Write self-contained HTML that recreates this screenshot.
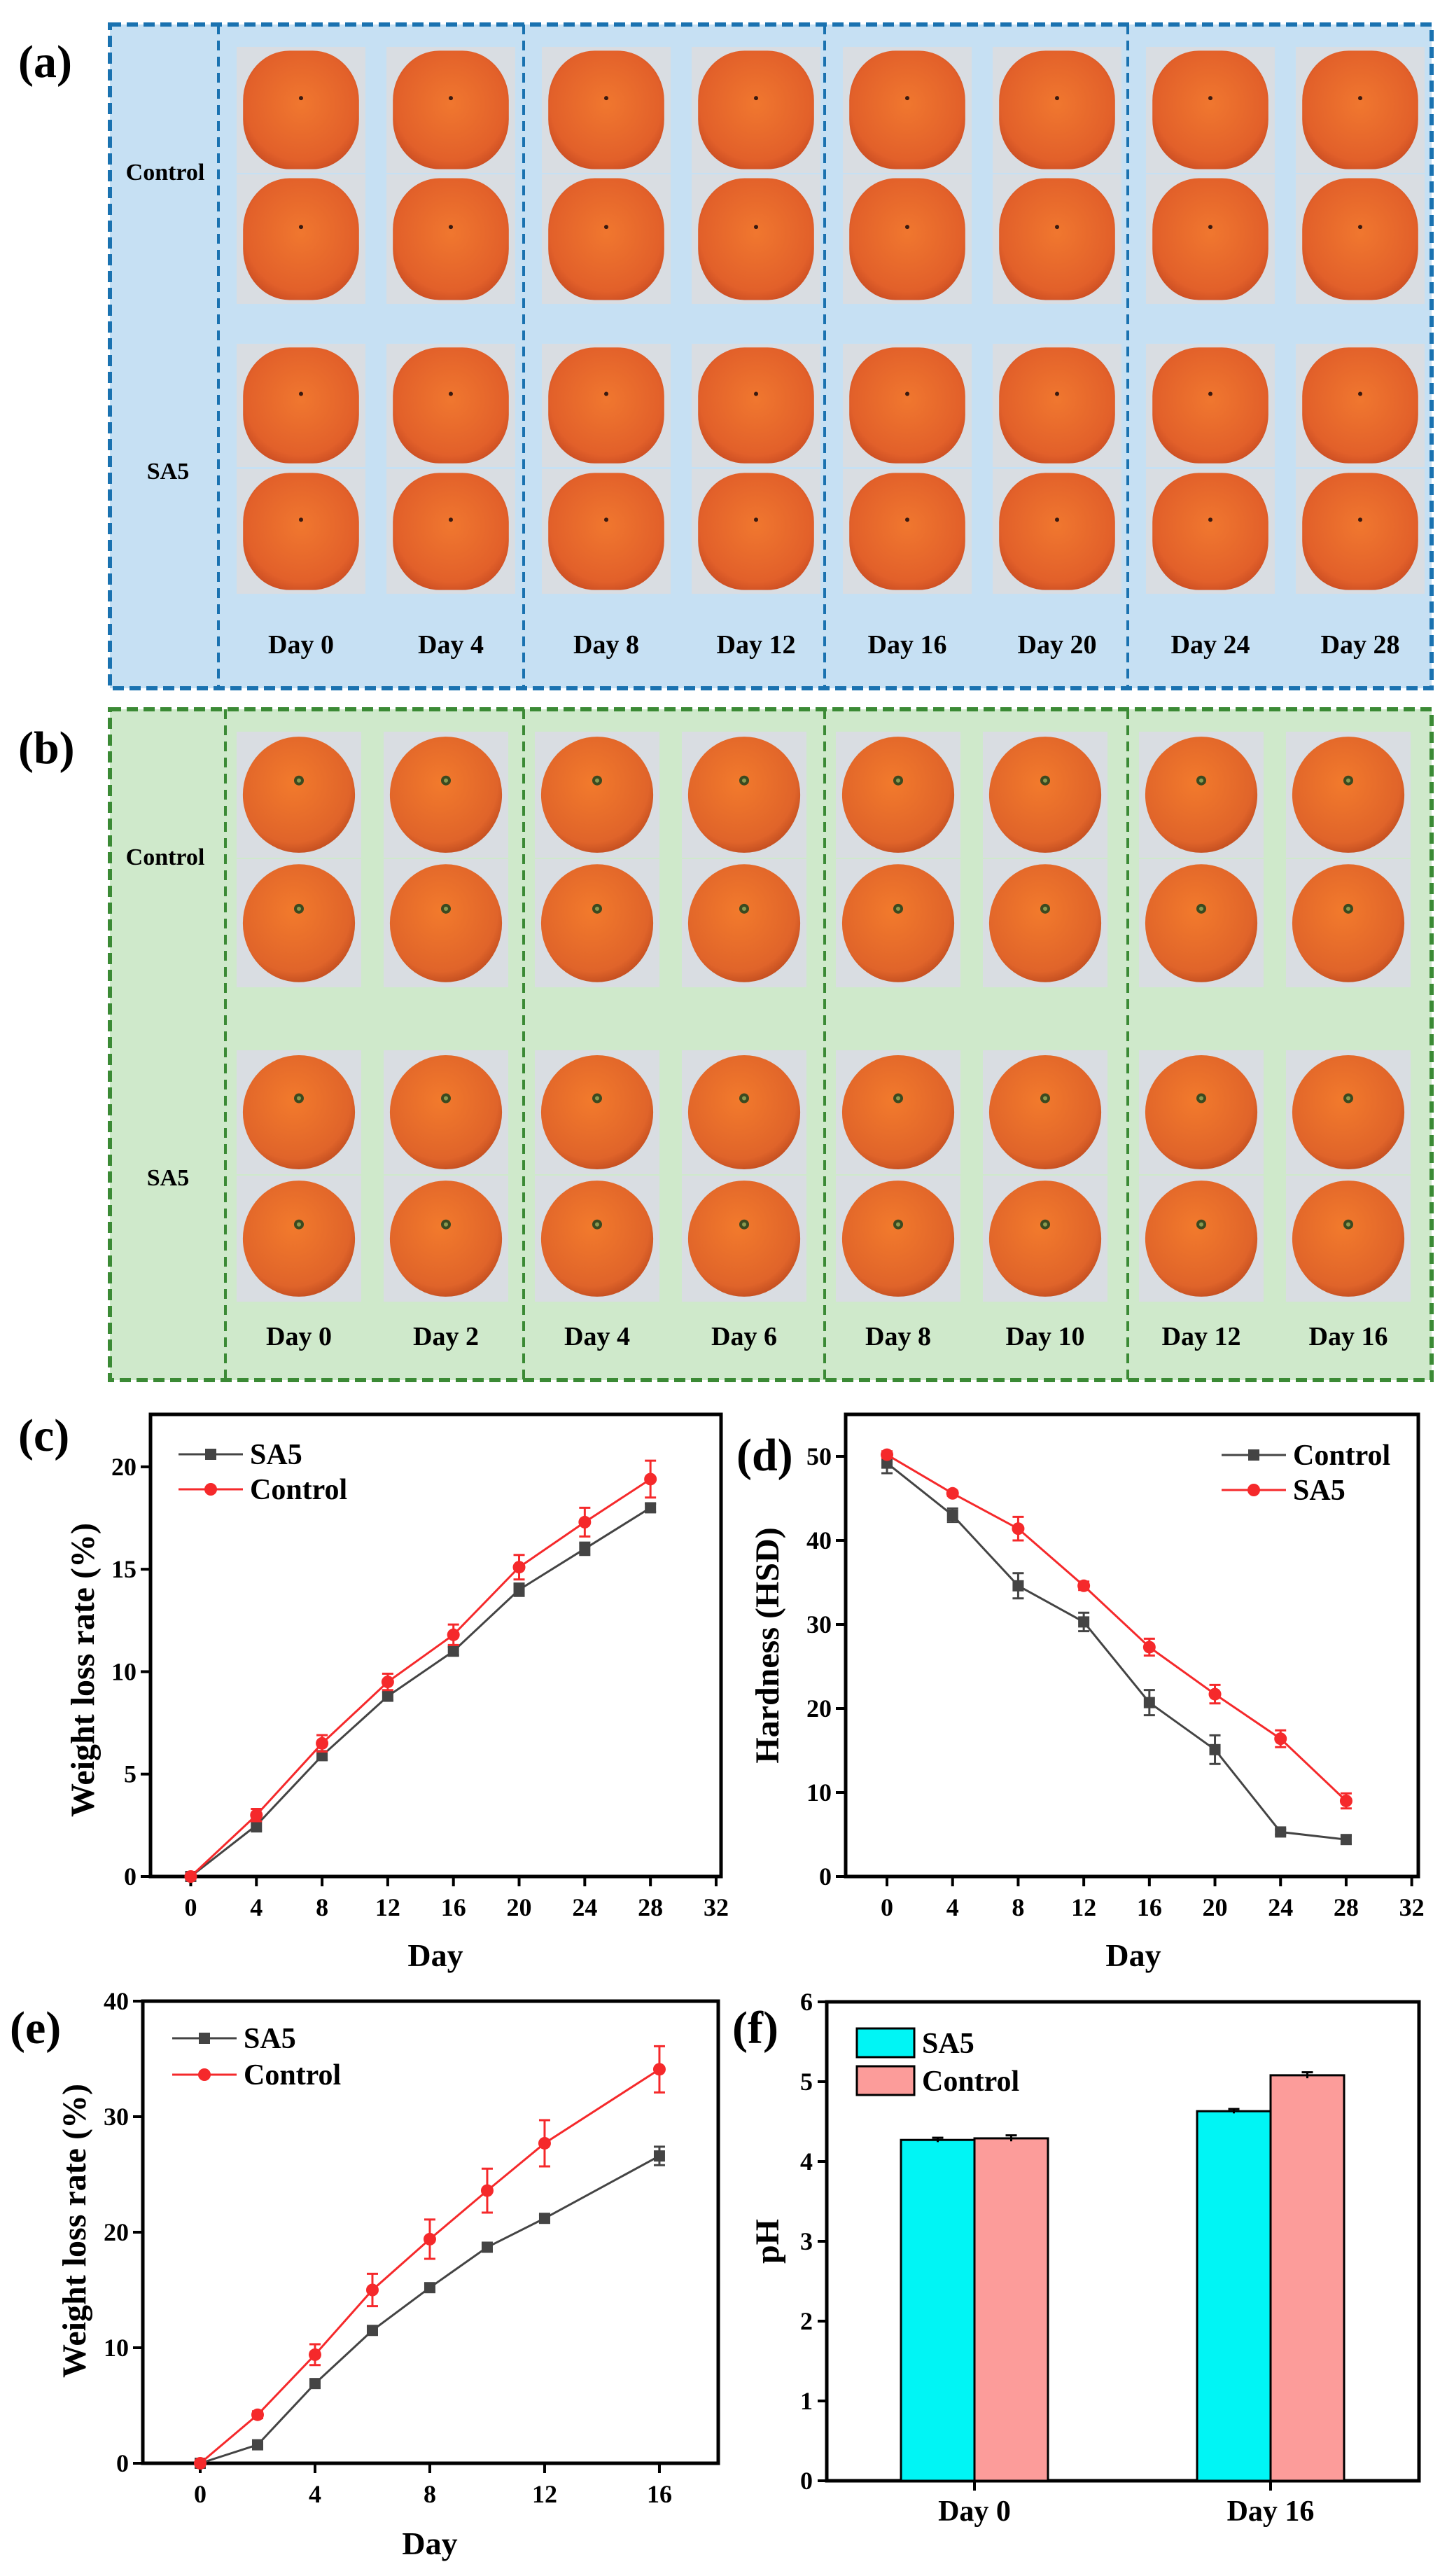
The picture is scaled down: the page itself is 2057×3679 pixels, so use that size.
<!DOCTYPE html>
<html><head><meta charset="utf-8">
<style>
html,body{margin:0;padding:0;background:#fff;}
svg{display:block;}
svg text{font-family:"Liberation Serif","Times New Roman",serif;font-weight:bold;}
</style></head>
<body>
<svg id="fig" xmlns="http://www.w3.org/2000/svg" width="2057" height="3679" viewBox="0 0 2057 3679">
<defs>
<radialGradient id="persG" cx="50%" cy="45%" r="60%"><stop offset="0" stop-color="#f0772f"/><stop offset="0.8" stop-color="#e2602a"/><stop offset="1" stop-color="#c94c22"/></radialGradient>
<radialGradient id="mandG" cx="45%" cy="40%" r="60%"><stop offset="0" stop-color="#f27a2c"/><stop offset="0.85" stop-color="#e0642a"/><stop offset="1" stop-color="#c85222"/></radialGradient>
</defs>
<g id="panelA"></g>
<g id="panelB"></g>
<g id="chartC"></g>
<g id="chartD"></g>
<g id="chartE"></g>
<g id="chartF"></g>
</svg>
<script>
// ---------- chart data ----------
const daysC = [0,4,8,12,16,20,24,28];
const cSA5 = [0,2.5,5.9,8.8,11.0,14.0,16.0,18.0];
const cSA5Err = [0.1,0.3,0.2,0.2,0.2,0.3,0.3,0.2];
const cControl = [0,3.0,6.5,9.5,11.8,15.1,17.3,19.4];
const cControlErr = [0.1,0.3,0.4,0.4,0.5,0.6,0.7,0.9];
const cXTicks = [0,4,8,12,16,20,24,28,32];
const cYTicks = [0,5,10,15,20];

const daysD = [0,4,8,12,16,20,24,28];
const dControl = [49.2,43.0,34.6,30.3,20.7,15.1,5.3,4.4];
const dControlErr = [1.2,0.8,1.5,1.1,1.5,1.7,0.3,0.5];
const dSA5 = [50.2,45.6,41.4,34.6,27.3,21.7,16.4,9.0];
const dSA5Err = [0.4,0.3,1.4,0.5,1.0,1.1,1.0,0.9];
const dXTicks = [0,4,8,12,16,20,24,28,32];
const dYTicks = [0,10,20,30,40,50];

const daysE = [0,2,4,6,8,10,12,16];
const eSA5 = [0,1.6,6.9,11.5,15.2,18.7,21.2,26.6];
const eSA5Err = [0.1,0.3,0.3,0.3,0.3,0.3,0.3,0.8];
const eControl = [0,4.2,9.4,15.0,19.4,23.6,27.7,34.1];
const eControlErr = [0.1,0.3,0.9,1.4,1.7,1.9,2.0,2.0];
const eXTicks = [0,4,8,12,16];
const eYTicks = [0,10,20,30,40];

const fCategories = ["Day 0","Day 16"];
const fSA5 = [4.27,4.63];
const fSA5Err = [0.01,0.01];
const fControl = [4.29,5.08];
const fControlErr = [0.02,0.02];
const fYTicks = [0,1,2,3,4,5,6];

const daysA = ["Day 0","Day 4","Day 8","Day 12","Day 16","Day 20","Day 24","Day 28"];
const daysB = ["Day 0","Day 2","Day 4","Day 6","Day 8","Day 10","Day 12","Day 16"];

const NS="http://www.w3.org/2000/svg";
function mk(parent,tag,attrs,text){const e=document.createElementNS(NS,tag);for(const k in attrs)e.setAttribute(k,attrs[k]);if(text!==undefined)e.textContent=text;parent.appendChild(e);return e;}

// ---------- photo panels ----------
function photoPanel(gid,top,bottom,bg,bd,labels,kind,rows,sepFirst,colOff,photoW){
  const g=document.getElementById(gid);
  const L=157,R=2045;
  const bgRect=mk(g,'rect',{x:L,y:top,width:R-L,height:bottom-top,fill:bg,stroke:bd,'stroke-width':6,'stroke-dasharray':'16 8'});
  
  
  const seps=[sepFirst,748,1178,1611];
  seps.forEach(x=>{const s=mk(g,'line',{x1:x,y1:top,x2:x,y2:bottom,stroke:bd,'stroke-width':4,'stroke-dasharray':'14 9'});
    
    });
  for(let gi=0;gi<4;gi++){
    for(let c=0;c<2;c++){
      const x=seps[gi]+colOff[c];
      rows.forEach(([y0,y1])=>{
        const ph=mk(g,'g',{});
        
        
        mk(ph,'rect',{x:x,y:y0,width:photoW,height:y1-y0,fill:'#d9dde2'});
        const cx=x+photoW/2, cy=(y0+y1)/2, w=photoW*0.9, h=(y1-y0)*0.94;
        if(kind==='p'){
          mk(ph,'rect',{x:cx-w/2,y:cy-h/2,width:w,height:h,rx:w*0.4,ry:h*0.42,fill:'url(#persG)'});
          mk(ph,'circle',{cx:cx,cy:cy-h*0.1,r:3,fill:'#3a1a10'});
        }else{
          mk(ph,'ellipse',{cx:cx,cy:cy,rx:w*0.5,ry:h*0.49,fill:'url(#mandG)'});
          mk(ph,'circle',{cx:cx,cy:cy-h*0.12,r:7,fill:'#3b4a20'});
          mk(ph,'circle',{cx:cx,cy:cy-h*0.12,r:3,fill:'#8a9a50'});
        }
      });
      const t=mk(g,'text',{x:x+photoW/2,y:bottom-50,'font-size':38,'text-anchor':'middle'},labels[gi*2+c]);
      
      
    }
  }
  const cl=mk(g,'text',{x:236,y:rows[1][0]+8,'font-size':34,'text-anchor':'middle'},'Control');
  
  
  const sl=mk(g,'text',{x:240,y:rows[3][0]+14,'font-size':34,'text-anchor':'middle'},'SA5');
  
  
}
photoPanel('panelA',35,983,'#c6e0f3','#1a72b0',daysA,'p',[[67,247],[249,434],[491,667],[670,848]],312,[26,240],184);
photoPanel('panelB',1013,1971,'#cfe9cb','#3b8a35',daysB,'m',[[1045,1225],[1227,1410],[1500,1677],[1679,1859]],322,[16,226],178);
[['(a)',26,110,'panel-label-a'],['(b)',26,1090,'panel-label-b'],['(c)',26,2072,'panel-label-c'],['(d)',1052,2100,'panel-label-d'],['(e)',14,2918,'panel-label-e'],['(f)',1046,2918,'panel-label-f']].forEach(([s,x,y,n])=>{
  const t=mk(document.getElementById('fig'),'text',{x:x,y:y,'font-size':66},s);
  
  
});

// ---------- line charts ----------
function lineChart(gid,box,xd,yd,xTicks,yTicks,series,legend,xTitlePos,yTitle,yTitlePos){
  const g=document.getElementById(gid);
  const sx=v=>box.l+(v-xd[0])/(xd[1]-xd[0])*(box.r-box.l);
  const sy=v=>box.b-(v-yd[0])/(yd[1]-yd[0])*(box.b-box.t);
  const fr=mk(g,'rect',{x:box.l,y:box.t,width:box.r-box.l,height:box.b-box.t,fill:'none',stroke:'#000','stroke-width':5});
  
  
  xTicks.forEach(v=>{const x=sx(v);mk(g,'line',{x1:x,y1:box.b,x2:x,y2:box.b+14,stroke:'#000','stroke-width':4});
    const t=mk(g,'text',{x:x,y:box.b+56,'font-size':36,'text-anchor':'middle'},String(v));
    
    });
  yTicks.forEach(v=>{const y=sy(v);mk(g,'line',{x1:box.l-14,y1:y,x2:box.l,y2:y,stroke:'#000','stroke-width':4});
    const t=mk(g,'text',{x:box.l-20,y:y+12,'font-size':36,'text-anchor':'end'},String(v));
    
    });
  series.forEach(s=>{
    const sg=mk(g,'g',{});
    
    
    mk(sg,'polyline',{points:s.x.map((d,i)=>sx(d)+','+sy(s.y[i])).join(' '),fill:'none',stroke:s.color,'stroke-width':3});
    s.x.forEach((d,i)=>{
      const x=sx(d),y=sy(s.y[i]),e=s.err[i];
      const y1=sy(s.y[i]+e),y2=sy(s.y[i]-e);
      mk(sg,'line',{x1:x,y1:y1,x2:x,y2:y2,stroke:s.color,'stroke-width':3});
      mk(sg,'line',{x1:x-8,y1:y1,x2:x+8,y2:y1,stroke:s.color,'stroke-width':3});
      mk(sg,'line',{x1:x-8,y1:y2,x2:x+8,y2:y2,stroke:s.color,'stroke-width':3});
      if(s.marker==='sq') mk(sg,'rect',{x:x-8,y:y-8,width:16,height:16,fill:s.color});
      else mk(sg,'circle',{cx:x,cy:y,r:9,fill:s.color});
    });
  });
  legend.forEach(l=>{
    const lg=mk(g,'g',{});
    
    
    mk(lg,'line',{x1:l.x,y1:l.y,x2:l.x+92,y2:l.y,stroke:l.color,'stroke-width':3});
    if(l.marker==='sq') mk(lg,'rect',{x:l.x+38,y:l.y-8,width:16,height:16,fill:l.color});
    else mk(lg,'circle',{cx:l.x+46,cy:l.y,r:9,fill:l.color});
    mk(lg,'text',{x:l.x+102,y:l.y+14,'font-size':42},l.label);
  });
  const xt=mk(g,'text',{x:xTitlePos[0],y:xTitlePos[1],'font-size':46,'text-anchor':'middle'},'Day');
  
  
  const yt=mk(g,'text',{x:0,y:0,'font-size':48,'text-anchor':'middle',transform:`translate(${yTitlePos[0]},${yTitlePos[1]}) rotate(-90)`},yTitle);
  
  
}
const GRAY='#444444', RED='#f5292b';
lineChart('chartC',{l:215,r:1030,t:2020,b:2680},[-2.45,32.3],[0,22.56],cXTicks,cYTicks,
  [{name:'series-sa5',x:daysC,y:cSA5,err:cSA5Err,color:GRAY,marker:'sq'},
   {name:'series-control',x:daysC,y:cControl,err:cControlErr,color:RED,marker:'ci'}],
  [{x:255,y:2077,color:GRAY,marker:'sq',label:'SA5'},{x:255,y:2127,color:RED,marker:'ci',label:'Control'}],
  [622,2808],'Weight loss rate (%)',[134,2385]);
lineChart('chartD',{l:1208,r:2026,t:2020,b:2680},[-2.52,32.4],[0,55],dXTicks,dYTicks,
  [{name:'series-control',x:daysD,y:dControl,err:dControlErr,color:GRAY,marker:'sq'},
   {name:'series-sa5',x:daysD,y:dSA5,err:dSA5Err,color:RED,marker:'ci'}],
  [{x:1745,y:2078,color:GRAY,marker:'sq',label:'Control'},{x:1745,y:2128,color:RED,marker:'ci',label:'SA5'}],
  [1619,2808],'Hardness (HSD)',[1112,2350]);
lineChart('chartE',{l:204,r:1026,t:2858,b:3518},[-2,18.05],[0,40],eXTicks,eYTicks,
  [{name:'series-sa5',x:daysE,y:eSA5,err:eSA5Err,color:GRAY,marker:'sq'},
   {name:'series-control',x:daysE,y:eControl,err:eControlErr,color:RED,marker:'ci'}],
  [{x:246,y:2911,color:GRAY,marker:'sq',label:'SA5'},{x:246,y:2963,color:RED,marker:'ci',label:'Control'}],
  [614,3648],'Weight loss rate (%)',[122,3186]);

// ---------- bar chart ----------
(function(){
  const g=document.getElementById('chartF');
  const box={l:1181,r:2027,t:2859,b:3543};
  const sy=v=>box.b-v/6*(box.b-box.t);
  const catX=[1392,1815]; const bw=105;
  mk(g,'rect',{x:box.l,y:box.t,width:box.r-box.l,height:box.b-box.t,fill:'none',stroke:'#000','stroke-width':5});
  fYTicks.forEach(v=>{const y=sy(v);mk(g,'line',{x1:box.l-13,y1:y,x2:box.l,y2:y,stroke:'#000','stroke-width':4});
    const t=mk(g,'text',{x:box.l-20,y:y+12,'font-size':36,'text-anchor':'end'},String(v));
    
    });
  fCategories.forEach((c,i)=>{
    const cx=catX[i];
    mk(g,'line',{x1:cx,y1:box.b,x2:cx,y2:box.b+14,stroke:'#000','stroke-width':4});
    const t=mk(g,'text',{x:cx,y:3600,'font-size':42,'text-anchor':'middle'},c);
    
    
    [[fSA5,fSA5Err,'#00f5f5',cx-bw,'bar-sa5'],[fControl,fControlErr,'#fc9c9a',cx,'bar-control']].forEach(([vals,errs,col,x,n])=>{
      const b=mk(g,'rect',{x:x,y:sy(vals[i]),width:bw,height:box.b-sy(vals[i]),fill:col,stroke:'#000','stroke-width':3});
      
      
      const m=x+bw/2,y1=sy(vals[i]+errs[i]),y2=sy(vals[i]-errs[i]);
      mk(g,'line',{x1:m,y1:y1-2,x2:m,y2:y2+2,stroke:'#000','stroke-width':3});
      mk(g,'line',{x1:m-8,y1:y1-2,x2:m+8,y2:y1-2,stroke:'#000','stroke-width':3});
    });
  });
  [['#00f5f5','SA5',2897],['#fc9c9a','Control',2951]].forEach(([c,l,y])=>{
    const lg=mk(g,'g',{});
    
    
    mk(lg,'rect',{x:1224,y:y,width:82,height:41,fill:c,stroke:'#000','stroke-width':3});
    mk(lg,'text',{x:1317,y:y+35,'font-size':42},l);
  });
  const yt=mk(g,'text',{x:0,y:0,'font-size':48,'text-anchor':'middle',transform:'translate(1112,3201) rotate(-90)'},'pH');
  
  
})();
</script>
</body></html>
